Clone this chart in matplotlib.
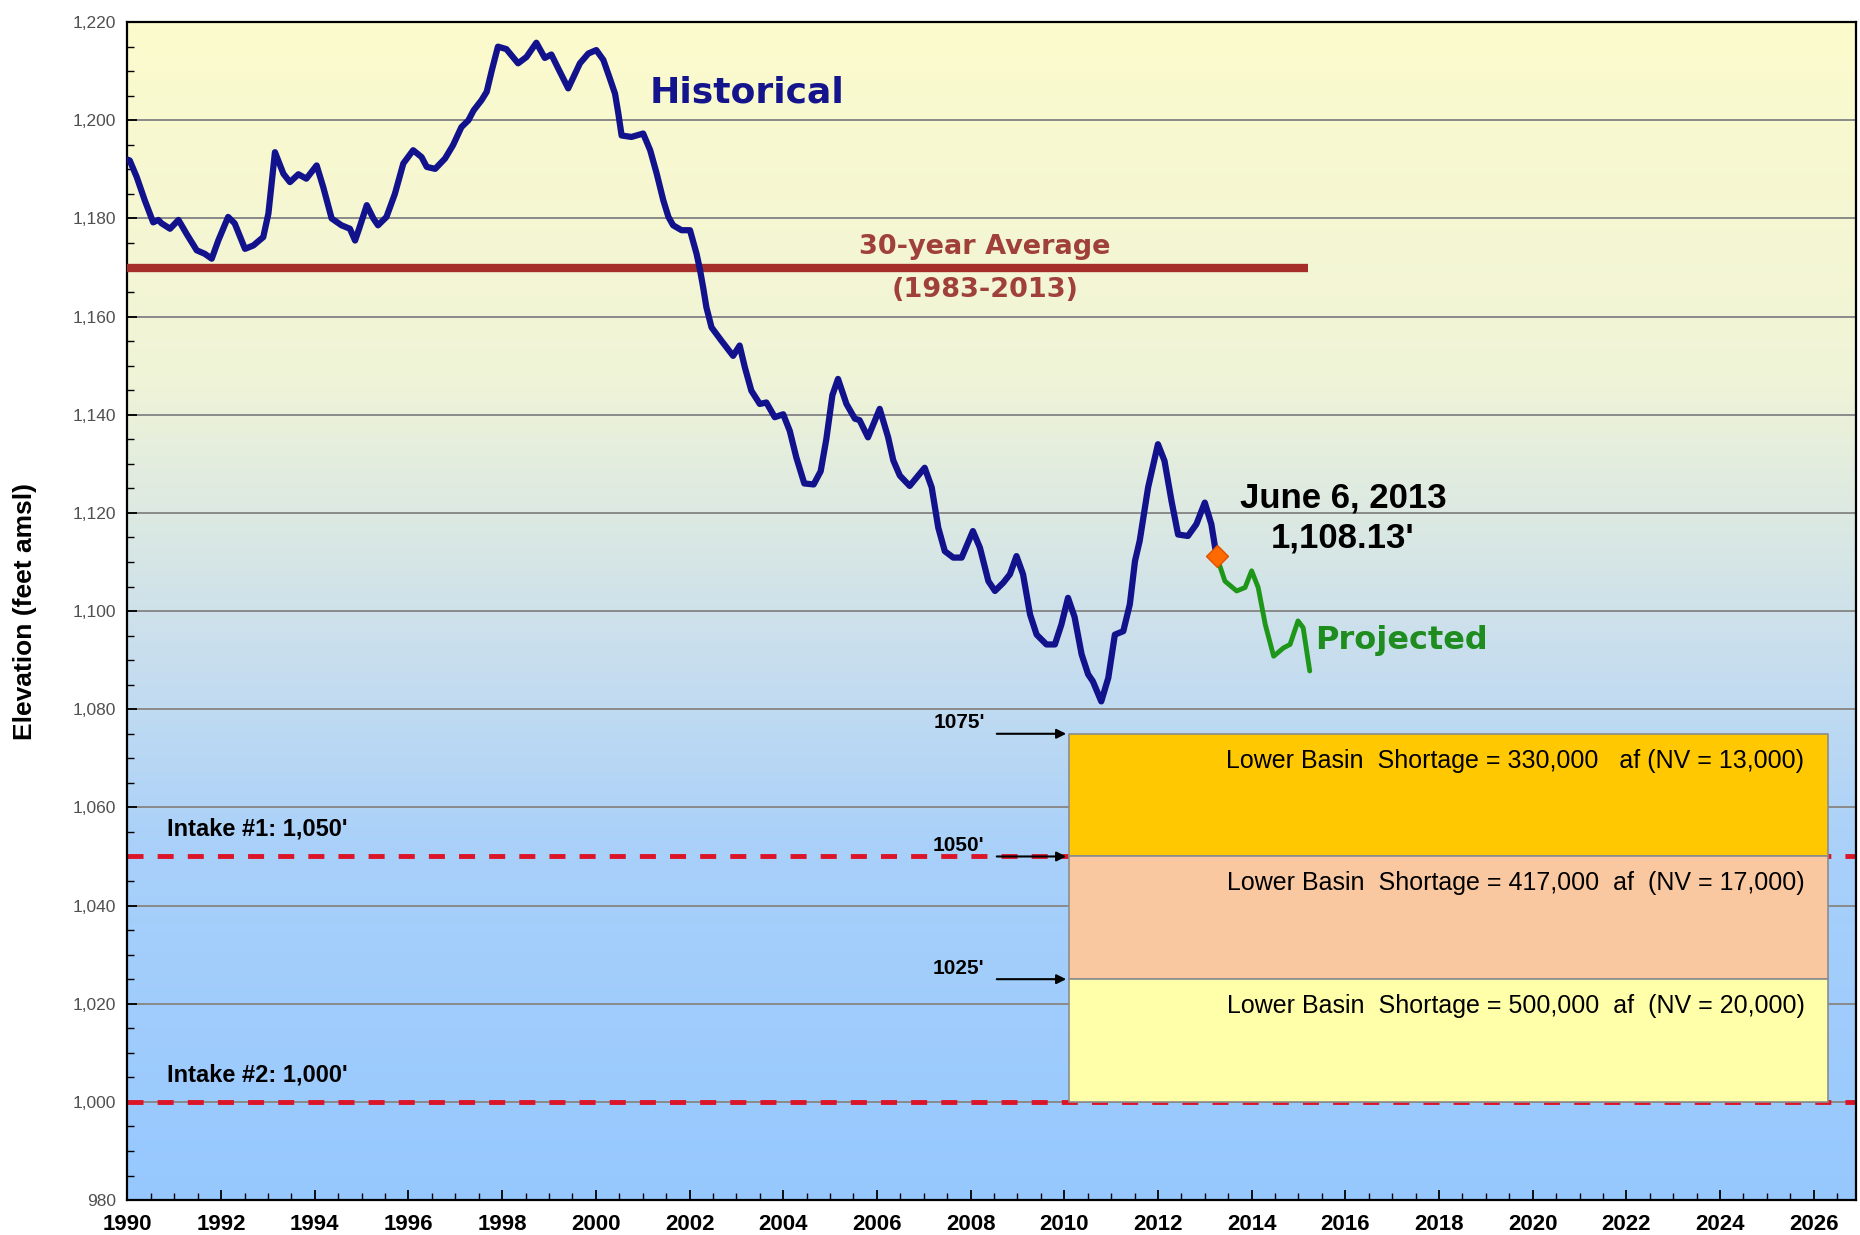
import numpy as np
import matplotlib
matplotlib.use("Agg")
from matplotlib import pyplot as plt
from matplotlib.colors import LinearSegmentedColormap
from matplotlib.ticker import MultipleLocator, FuncFormatter

# lake elevation, historical (decimal year, feet amsl)
hist_years = [1990.00, 1990.05, 1990.20, 1990.37, 1990.55, 1990.66, 1990.73, 1990.91,
              1991.09, 1991.26, 1991.48, 1991.65, 1991.80, 1991.94, 1992.15, 1992.29,
              1992.51, 1992.69, 1992.90, 1993.01, 1993.15, 1993.33, 1993.47, 1993.65,
              1993.82, 1994.04, 1994.18, 1994.36, 1994.57, 1994.75, 1994.86, 1994.96,
              1995.11, 1995.25, 1995.35, 1995.53, 1995.71, 1995.89, 1996.10, 1996.28,
              1996.39, 1996.57, 1996.78, 1996.95, 1997.13, 1997.28, 1997.39, 1997.56,
              1997.67, 1997.78, 1997.91, 1998.09, 1998.34, 1998.52, 1998.73, 1998.91,
              1999.05, 1999.20, 1999.41, 1999.66, 1999.84, 2000.01, 2000.16, 2000.30,
              2000.41, 2000.48, 2000.55, 2000.76, 2001.01, 2001.16, 2001.30, 2001.44,
              2001.55, 2001.65, 2001.83, 2002.01, 2002.15, 2002.22, 2002.29, 2002.36,
              2002.47, 2002.68, 2002.93, 2003.07, 2003.18, 2003.32, 2003.50, 2003.64,
              2003.82, 2004.00, 2004.14, 2004.28, 2004.45, 2004.65, 2004.80, 2004.92,
              2005.05, 2005.17, 2005.35, 2005.53, 2005.63, 2005.81, 2006.06, 2006.24,
              2006.35, 2006.49, 2006.70, 2007.02, 2007.17, 2007.31, 2007.45, 2007.63,
              2007.81, 2008.05, 2008.20, 2008.38, 2008.52, 2008.70, 2008.84, 2008.98,
              2009.12, 2009.27, 2009.41, 2009.62, 2009.80, 2009.94, 2010.08, 2010.22,
              2010.37, 2010.51, 2010.61, 2010.79, 2010.94, 2011.08, 2011.26, 2011.40,
              2011.51, 2011.61, 2011.79, 2012.00, 2012.14, 2012.29, 2012.43, 2012.64,
              2012.82, 2013.00, 2013.14, 2013.25]
hist_elev = [1192.0, 1191.8, 1188.4, 1183.7, 1179.2, 1179.7, 1179.0, 1177.9,
             1179.7, 1176.9, 1173.5, 1172.8, 1171.8, 1175.5, 1180.3, 1179.0,
             1173.8, 1174.5, 1176.2, 1181.0, 1193.5, 1189.1, 1187.4, 1189.0,
             1188.1, 1190.8, 1186.4, 1180.0, 1178.6, 1177.9, 1175.5, 1178.3,
             1182.7, 1180.0, 1178.6, 1180.3, 1185.0, 1191.2, 1193.9, 1192.5,
             1190.5, 1190.1, 1192.2, 1194.9, 1198.6, 1200.0, 1202.0, 1204.1,
             1205.8, 1210.2, 1215.0, 1214.5, 1211.6, 1212.9, 1215.8, 1212.7,
             1213.4, 1210.5, 1206.5, 1211.6, 1213.6, 1214.3, 1212.3, 1208.5,
             1205.4, 1201.4, 1196.9, 1196.6, 1197.3, 1193.9, 1189.1, 1183.7,
             1180.3, 1178.6, 1177.6, 1177.6, 1172.8, 1169.7, 1166.0, 1161.9,
             1157.8, 1155.1, 1152.0, 1154.1, 1149.7, 1144.9, 1142.2, 1142.5,
             1139.5, 1140.1, 1136.7, 1131.3, 1126.0, 1125.8, 1128.5, 1135.0,
             1144.0, 1147.3, 1142.2, 1139.2, 1138.9, 1135.4, 1141.2, 1135.4,
             1130.7, 1127.6, 1125.5, 1129.2, 1125.2, 1117.0, 1112.2, 1110.9,
             1110.9, 1116.3, 1112.9, 1106.1, 1104.1, 1105.8, 1107.5, 1111.2,
             1107.5, 1099.3, 1095.2, 1093.2, 1093.2, 1097.3, 1102.7, 1098.8,
             1091.2, 1087.1, 1085.7, 1081.6, 1086.4, 1095.2, 1095.9, 1101.4,
             1110.2, 1114.3, 1125.2, 1134.0, 1130.6, 1122.4, 1115.6, 1115.3,
             1117.7, 1122.1, 1117.7, 1111.2]

# projection
proj_years = [2013.25, 2013.43, 2013.68, 2013.86, 2014.00, 2014.14, 2014.29,
              2014.47, 2014.68, 2014.82, 2014.99, 2015.10, 2015.24]
proj_elev = [1111.2, 1106.1, 1104.1, 1104.8, 1108.2, 1104.8, 1097.3,
             1090.8, 1092.5, 1093.2, 1098.0, 1096.6, 1087.8]

current_year = 2013.25
current_elev = 1111.2

avg_elev = 1170
avg_span = [1990, 2015.2]

intake_levels = [1050, 1000]
intake_labels = ["Intake #1: 1,050'", "Intake #2: 1,000'"]

shortage_tops = [1075, 1050, 1025]
shortage_bottoms = [1050, 1025, 1000]
shortage_span = [2010.1, 2026.3]
shortage_labels = ["Lower Basin  Shortage = 330,000   af (NV = 13,000)",
                   "Lower Basin  Shortage = 417,000  af  (NV = 17,000)",
                   "Lower Basin  Shortage = 500,000  af  (NV = 20,000)"]
shortage_marks = ["1075'", "1050'", "1025'"]

shortage_colors = ["#FFC800", "#FAC8A0", "#FFFFAA"]
arial = "Liberation Sans"
tahoma = "DejaVu Sans"

fig = plt.figure(figsize=(18.6, 12.35), dpi=100)
ax = fig.add_axes([0.0685, 0.0283, 0.9293, 0.9538])
ax.set_xlim(1990, 2026.9)
ax.set_ylim(980, 1220)

# background gradient, pale yellow at top to light blue at bottom
grad = LinearSegmentedColormap.from_list("bg", [
    (0.0, (150/255, 200/255, 255/255)),
    (0.29, (168/255, 208/255, 250/255)),
    (0.46, (200/255, 222/255, 238/255)),
    (0.70, (240/255, 244/255, 215/255)),
    (1.0, (252/255, 251/255, 205/255))])
ax.imshow(np.linspace(0, 1, 256).reshape(-1, 1), cmap=grad, origin="lower",
          extent=[1990, 2026.9, 980, 1220], aspect="auto", zorder=0)

ax.yaxis.set_major_locator(MultipleLocator(20))
ax.yaxis.set_minor_locator(MultipleLocator(5))
ax.xaxis.set_major_locator(MultipleLocator(2))
ax.xaxis.set_minor_locator(MultipleLocator(0.5))
ax.yaxis.set_major_formatter(FuncFormatter(lambda v, p: f"{int(v):,}"))
ax.grid(axis="y", which="major", color="#8a8a8a", lw=1.4, zorder=1)
ax.set_axisbelow(True)
ax.tick_params(which="both", direction="in", top=False, right=False)
ax.tick_params(which="major", length=7, width=1.3)
ax.tick_params(which="minor", length=5, width=1.0)
ax.tick_params(axis="y", labelsize=12.5, labelcolor="#505050", pad=8)
ax.tick_params(axis="x", pad=10)
for lab in ax.get_xticklabels():
    lab.set_family(arial)
    lab.set_fontweight("bold")
    lab.set_fontsize(16)
for lab in ax.get_yticklabels():
    lab.set_family(arial)
for sp in ax.spines.values():
    sp.set_linewidth(1.6)

ax.set_ylabel("Elevation (feet amsl)", family=arial, fontsize=19,
              fontweight="bold", labelpad=26)

# intake lines
for lvl, lab in zip(intake_levels, intake_labels):
    ax.axhline(lvl, color="#DC1428", lw=3.5, dashes=(3.3, 2.9), zorder=2)
    ax.text(1990.85, lvl + 5.5, lab, family=arial, fontweight="bold",
            fontsize=17, va="center", ha="left", zorder=5)

# shortage boxes
for top, bot, col, lab, mark in zip(shortage_tops, shortage_bottoms,
                                     shortage_colors, shortage_labels, shortage_marks):
    ax.fill_between(shortage_span, bot, top, facecolor=col, edgecolor="#8c8c8c",
                    lw=1.2, zorder=3)
    ax.text(2025.8, top - 5.5, lab, family=arial, fontsize=18, ha="right",
            va="center", zorder=5)
    ax.annotate("", xy=(shortage_span[0], top), xytext=(2008.5, top),
                arrowprops=dict(arrowstyle="-|>", color="black", lw=1.5,
                                mutation_scale=14), zorder=5)
    ax.text(2008.3, top + 2.2, mark, family=arial, fontweight="bold", fontsize=15,
            ha="right", va="center", zorder=5)

# 30-year average
ax.plot(avg_span, [avg_elev, avg_elev], color="#A52E2A", lw=6, zorder=3,
        solid_capstyle="butt")
ax.text(2008.3, avg_elev + 4.2, "30-year Average", family=tahoma,
        fontweight="bold", fontsize=19.5, color="#A0403A", ha="center", va="center", zorder=5)
ax.text(2008.3, avg_elev - 4.5, "(1983-2013)", family=tahoma,
        fontweight="bold", fontsize=19.5, color="#A0403A", ha="center", va="center", zorder=5)

# elevation lines
ax.plot(hist_years, hist_elev, color="#12128C", lw=4.5, zorder=6,
        solid_joinstyle="round", solid_capstyle="round")
ax.plot(proj_years, proj_elev, color="#1E9619", lw=3.5, zorder=6,
        solid_joinstyle="round", solid_capstyle="round")
ax.plot([current_year], [current_elev], marker="D", ms=11, color="#FF6A00",
        mec="#E05000", zorder=7)

ax.text(2001.15, 1205.6, "Historical", family=tahoma, fontweight="bold",
        fontsize=26, color="#14148C", ha="left", va="center", zorder=5)
ax.text(2015.35, 1094, "Projected", family=tahoma, fontweight="bold",
        fontsize=23, color="#1E8C1E", ha="left", va="center", zorder=5)
ax.text(2015.95, 1123, "June 6, 2013", family=arial, fontweight="bold",
        fontsize=25, ha="center", va="center", zorder=5)
ax.text(2015.95, 1114.9, "1,108.13'", family=arial, fontweight="bold",
        fontsize=25, ha="center", va="center", zorder=5)

fig.savefig("out.png", dpi=100)
